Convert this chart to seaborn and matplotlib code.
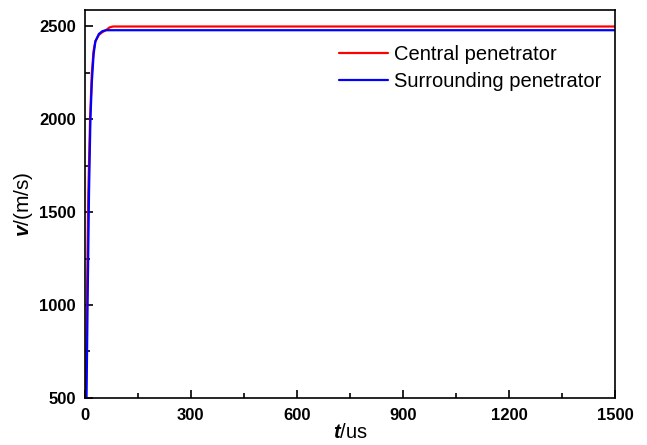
import numpy as np
import pandas as pd
import matplotlib
matplotlib.use('Agg')
import matplotlib.pyplot as plt
import seaborn as sns
from matplotlib.ticker import MultipleLocator

# Data
t_central = [0, 3, 6, 10, 15, 20, 25, 30, 40, 50, 60, 70, 80, 1500]
v_central = [300, 500, 1000, 1600, 2000, 2250, 2370, 2420, 2455, 2470, 2480, 2495, 2500, 2500]
t_surround = [0, 5, 8, 12, 16, 20, 25, 30, 40, 50, 60, 80, 1500]
v_surround = [300, 500, 1000, 1600, 2000, 2200, 2350, 2420, 2460, 2475, 2480, 2480, 2480]
labels = ['Central penetrator', 'Surrounding penetrator']
colors = ['#ff0000', '#0000ff']

df = pd.concat([
    pd.DataFrame({'t': t_central, 'v': v_central, 'series': labels[0]}),
    pd.DataFrame({'t': t_surround, 'v': v_surround, 'series': labels[1]}),
])

sns.set_style('ticks')
plt.rcParams['font.family'] = ['Liberation Sans', 'DejaVu Sans']
plt.rcParams['text.color'] = 'black'
plt.rcParams['axes.labelcolor'] = 'black'
plt.rcParams['xtick.color'] = 'black'
plt.rcParams['ytick.color'] = 'black'
plt.rcParams['mathtext.fontset'] = 'custom'
plt.rcParams['mathtext.rm'] = 'Liberation Sans'
plt.rcParams['mathtext.bf'] = 'Liberation Sans:bold'
plt.rcParams['mathtext.it'] = 'Liberation Sans:italic'
plt.rcParams['mathtext.bfit'] = 'Liberation Sans:italic:bold'

fig = plt.figure(figsize=(6.47, 4.45), dpi=100)
ax = fig.add_axes([0.131, 0.106, 0.82, 0.872])

sns.lineplot(data=df, x='t', y='v', hue='series', palette=colors,
             sort=False, estimator=None, linewidth=1.6, ax=ax)

ax.set_xlim(0, 1500)
ax.set_ylim(500, 2590)
ax.xaxis.set_major_locator(MultipleLocator(300))
ax.xaxis.set_minor_locator(MultipleLocator(150))
ax.yaxis.set_major_locator(MultipleLocator(500))
ax.yaxis.set_minor_locator(MultipleLocator(250))
ax.tick_params(which='both', direction='in', top=False, right=False, width=1.2)
ax.tick_params(which='major', length=6, labelsize=12)
ax.tick_params(axis='x', which='major', pad=7)
ax.tick_params(axis='y', which='major', pad=6.5)
ax.tick_params(which='minor', length=3.5)
for lab in ax.get_xticklabels() + ax.get_yticklabels():
    lab.set_fontweight('bold')
for sp in ax.spines.values():
    sp.set_linewidth(1.2)
    sp.set_color('black')

ax.set_xlabel(r'$\mathbfit{t}$/us', fontsize=14.5, labelpad=0.5)
ax.set_ylabel(r'$\mathbfit{v}$/(m/s)', fontsize=15, labelpad=3)

ax.legend(title=None, frameon=False, loc='upper right', fontsize=14.5,
          bbox_to_anchor=(1.0, 0.945), handlelength=2.4, handletextpad=0.3,
          labelspacing=0.4, borderaxespad=0.3)

fig.savefig('out.png', dpi=100)
